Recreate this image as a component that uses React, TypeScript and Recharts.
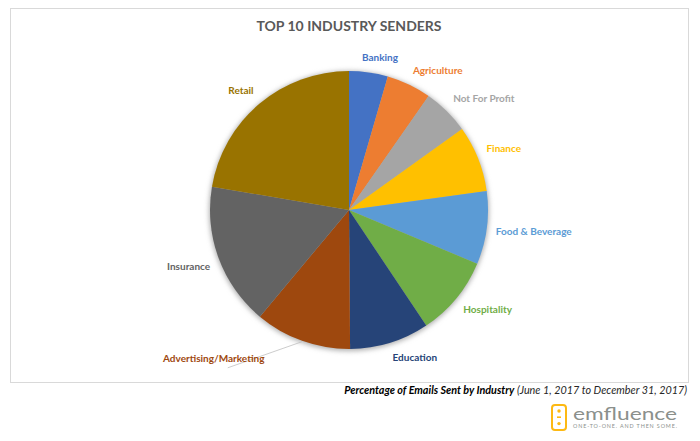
import React from 'react';
import { PieChart, Pie, Cell } from 'recharts';

const categories = [
  'Banking',
  'Agriculture',
  'Not For Profit',
  'Finance',
  'Food & Beverage',
  'Hospitality',
  'Education',
  'Advertising/Marketing',
  'Insurance',
  'Retail',
];
const shares = [4.5, 5.2, 5.4, 7.7, 8.5, 9.3, 9.25, 11.2, 16.6, 22.3];
const sliceColors = [
  '#4472C4', '#ED7D31', '#A5A5A5', '#FFC000', '#5B9BD5',
  '#70AD47', '#264478', '#9E480E', '#636363', '#997300',
];
const labelColors = [
  '#4472C4', '#ED7D31', '#A5A5A5', '#FFC000', '#5B9BD5',
  '#70AD47', '#264478', '#9E480E', '#636363', '#997300',
];
const title = 'TOP 10 INDUSTRY SENDERS';
const captionBold = 'Percentage of Emails Sent by Industry';
const captionRest = ' (June 1, 2017 to December 31, 2017)';
const leaderLabels = ['Advertising/Marketing'];

const data = categories.map((name, i) => ({ name, value: shares[i] }));

const LABEL_SIZE = 10;
const LABEL_FAMILY = 'Lato';
let measureCtx: CanvasRenderingContext2D | null = null;
function textWidth(s: string): number {
  if (!measureCtx) measureCtx = document.createElement('canvas').getContext('2d');
  if (!measureCtx) return s.length * 5.5;
  measureCtx.font = `bold ${LABEL_SIZE}px ${LABEL_FAMILY}`;
  return measureCtx.measureText(s).width;
}

const RAD = Math.PI / 180;
const clamp = (v: number) => Math.max(-1, Math.min(1, v));

function renderLabel(props: any) {
  const { cx, cy, midAngle, outerRadius, index } = props;
  const name = categories[index];
  const color = labelColors[index];
  const ux = Math.cos(-midAngle * RAD);
  const uy = Math.sin(-midAngle * RAD);
  const w = textWidth(name);
  const h = 12;
  const px = cx + (outerRadius + 9) * ux;
  const py = cy + (outerRadius + 9) * uy;
  let lx = px + (w / 2) * clamp(ux * 4);
  let ly = py + (h / 2) * clamp(uy * 3);
  const textEl = (x: number, y: number) => (
    <text
      x={x}
      y={y}
      dy={3.3}
      textAnchor="middle"
      fill={color}
      fontFamily={LABEL_FAMILY}
      fontWeight="bold"
      fontSize={LABEL_SIZE}
    >
      {name}
    </text>
  );
  if (leaderLabels.includes(name)) {
    const sx = cx + (outerRadius + 1) * ux;
    const sy = cy + (outerRadius + 1) * uy;
    lx = sx - 88;
    ly = sy + 17;
    return (
      <g key={`lbl-${index}`}>
        <line x1={sx} y1={sy} x2={lx + 14} y2={ly + 9} stroke="#bfbfbf" strokeWidth={0.8} />
        {textEl(lx, ly)}
      </g>
    );
  }
  return <g key={`lbl-${index}`}>{textEl(lx, ly)}</g>;
}

export default function App() {
  return (
    <div
      style={{
        position: 'absolute',
        left: 0,
        top: 0,
        width: 700,
        height: 441,
        background: '#ffffff',
        overflow: 'hidden',
      }}
    >
      <style>{`body{margin:0;}`}</style>
      <div
        style={{
          position: 'absolute',
          left: 10,
          top: 8,
          width: 677,
          height: 373,
          border: '1px solid #d9d9d9',
        }}
      />
      <div style={{ position: 'absolute', left: 0, top: 0 }}>
        <PieChart width={700} height={441} margin={{ top: 0, right: 0, bottom: 0, left: 0 }}>
          <defs>
            <filter id="pieShadow" x="-20%" y="-20%" width="140%" height="140%">
              <feGaussianBlur stdDeviation="2.5" />
            </filter>
          </defs>
          <text
            x={349}
            y={31}
            textAnchor="middle"
            fill="#595959"
            fontFamily="Lato"
            fontWeight="bold"
            fontSize={14}
          >
            {title}
          </text>
          <Pie
            data={[{ name: 'shadow', value: 1 }]}
            dataKey="value"
            cx={349}
            cy={211}
            outerRadius={140}
            startAngle={90}
            endAngle={-270}
            fill="#b0b0b0"
            stroke="none"
            style={{ filter: 'url(#pieShadow)' }}
            isAnimationActive={false}
            legendType="none"
          />
          <Pie
            data={data}
            dataKey="value"
            nameKey="name"
            cx={349}
            cy={210}
            outerRadius={139}
            startAngle={90}
            endAngle={-270}
            stroke="none"
            label={renderLabel}
            labelLine={false}
            isAnimationActive={false}
          >
            {data.map((d, i) => (
              <Cell key={d.name} fill={sliceColors[i]} />
            ))}
          </Pie>
        </PieChart>
      </div>
      <svg
        width={700}
        height={441}
        style={{ position: 'absolute', left: 0, top: 0, pointerEvents: 'none' }}
      >
        <text
          x={687}
          y={394}
          textAnchor="end"
          fontFamily="Lato"
          fontSize={10.8}
          fontStyle="italic"
          fill="#000000"
        >
          <tspan fontWeight="bold">{captionBold}</tspan>
          <tspan fill="#262626">{captionRest}</tspan>
        </text>
        <rect x={552} y={405} width={14} height={25} rx={3} ry={3} fill="none" stroke="#FDB913" strokeWidth={2} />
        <circle cx={559} cy={411} r={1.7} fill="#FDB913" />
        <rect x={557} y={416.4} width={4} height={1.6} fill="#FDB913" />
        <circle cx={559} cy={423.6} r={1.7} fill="#FDB913" />
        <text
          x={573}
          y={420}
          fontFamily="Lato"
          fontWeight={400}
          fontSize={18}
          fill="#8b908c"
          textLength={104}
          lengthAdjust="spacingAndGlyphs"
        >
          emfluence
        </text>
        <text
          x={573}
          y={427.5}
          fontFamily="Lato"
          fontSize={5.4}
          fill="#8b908c"
          textLength={104}
          lengthAdjust="spacing"
        >
          ONE-TO-ONE. AND THEN SOME.
        </text>
      </svg>
    </div>
  );
}
